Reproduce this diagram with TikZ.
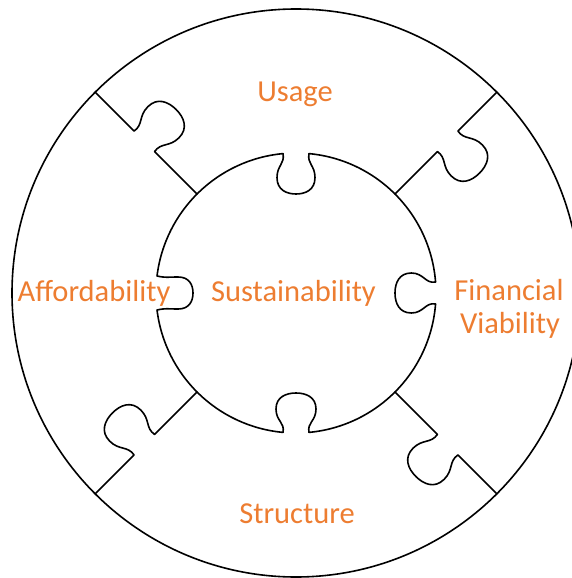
\documentclass[tikz,border=0pt]{standalone}
\usepackage{fontspec}
\setmainfont{Carlito}
\definecolor{pzorange}{HTML}{ED7D31}
% jigsaw tab/indent: neck half-width #1, head half-width #2, depth #3, start offset #4
\newcommand\pzl[4]{(-#1,#4) .. controls (-#1+2,{#4+0.25*#3}) and (-#2,0.3*#3) .. (-#2,0.6*#3) .. controls (-#2,0.9*#3) and (-0.5*#2,#3) .. (0,#3) .. controls (0.5*#2,#3) and (#2,0.9*#3) .. (#2,0.6*#3) .. controls (#2,0.3*#3) and (#1-2,{#4+0.25*#3}) .. (#1,#4)}
\begin{document}
\begin{tikzpicture}[x=1pt,y=-1pt,line width=1.6pt,line join=round,line cap=round,
  lbl/.style={text=pzorange,font=\fontsize{30.5}{34}\selectfont,anchor=base,inner sep=0pt}]
\useasboundingbox (0,0) rectangle (572,578);
\coordinate (c) at (296,293);
% outer ring
\draw (c) circle[radius=284];
% inner circle arcs
\draw (c) ++(275.33:140) arc[start angle=275.33,end angle=355.5,radius=140];
\draw (c) ++(4.5:140) arc[start angle=4.5,end angle=84.67,radius=140];
\draw (c) ++(95.33:140) arc[start angle=95.33,end angle=173,radius=140];
\draw (c) ++(187:140) arc[start angle=187,end angle=264.67,radius=140];
% inner indents
\begin{scope}[shift={(296,153)}]
  \draw \pzl{13}{19}{41}{0.6};
\end{scope}
\begin{scope}[shift={(436,293)},rotate=-90]
  \draw \pzl{11}{20}{41}{0.43};
\end{scope}
\begin{scope}[shift={(296,433)},rotate=180]
  \draw \pzl{13}{20}{40}{0.6};
\end{scope}
\begin{scope}[shift={(156,293)},rotate=90]
  \draw \pzl{17}{16}{37}{1.03};
\end{scope}
% radial seams with tabs
\begin{scope}[shift={(c)},shift={(225:214.5)},rotate=135]
  \draw (-74.5,0) -- \pzl{14.5}{22}{45}{0} -- (69.5,0);
\end{scope}
\begin{scope}[shift={(c)},shift={(315:214.5)},rotate=45]
  \draw (-74.5,0) -- \pzl{14.5}{22}{45}{0} -- (69.5,0);
\end{scope}
\begin{scope}[shift={(c)},shift={(45:214.5)},rotate=315]
  \draw (-74.5,0) -- \pzl{14.5}{22}{45}{0} -- (69.5,0);
\end{scope}
\begin{scope}[shift={(c)},shift={(135:214.5)},rotate=225]
  \draw (-74.5,0) -- \pzl{14.5}{22}{45}{0} -- (69.5,0);
\end{scope}
% labels
\node[lbl] (usage) at (295,101.7) {Usage};
\node[lbl] (sust) at (293.5,301) {Sustainability};
\node[lbl] (afford) at (94,301) {Affordability};
\node[lbl] (fin) at (509,300.7) {Financial};
\node[lbl] (via) at (510,333.3) {Viability};
\node[lbl] (struct) at (297,523.5) {Structure};
\end{tikzpicture}
\end{document}
